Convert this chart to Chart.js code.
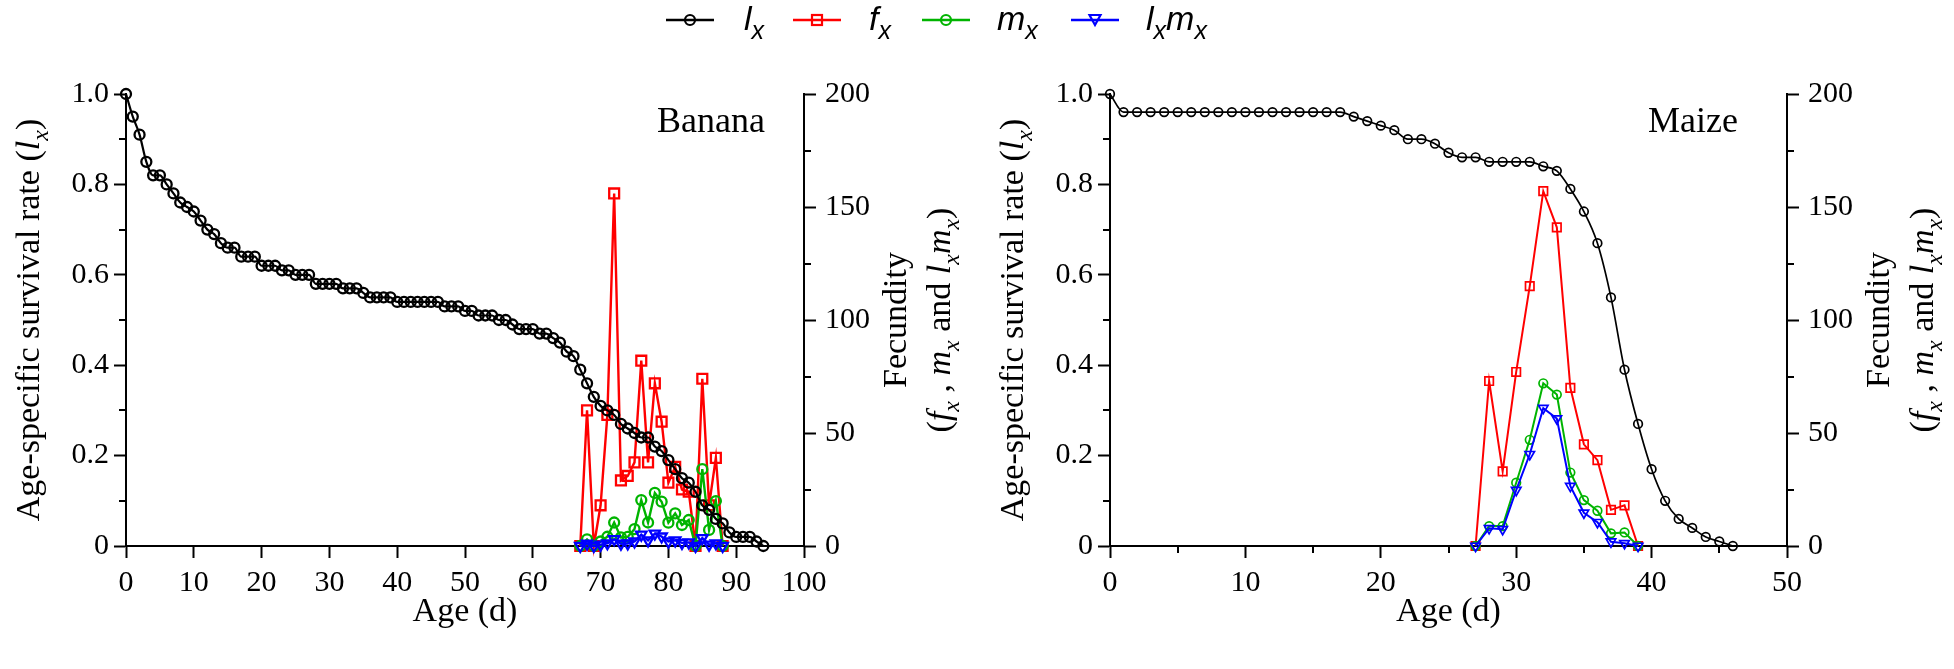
<!DOCTYPE html>
<html><head><meta charset="utf-8">
<script src="https://cdn.jsdelivr.net/npm/chart.js@4.4.1/dist/chart.umd.min.js"></script>
<style>
html,body{margin:0;padding:0;background:#fff;}
#wrap{position:relative;width:1954px;height:669px;overflow:hidden;background:#fff;}
#wrap canvas{position:absolute;top:0;}
#c1{left:0;}
#c2{left:977px;}
.lg{position:absolute;font-family:"Liberation Sans",Arial,sans-serif;font-style:italic;font-size:34px;line-height:34px;color:#000;white-space:nowrap;}
.lg sub{font-size:25px;line-height:0;vertical-align:-9px;}
.mk{position:absolute;}
</style></head>
<body>
<div id="wrap">
<canvas id="c1" width="977" height="669"></canvas>
<canvas id="c2" width="977" height="669"></canvas>
</div>
<script>
// ---------------- DATA ----------------
const bananaLxStartAge = 0;
const bananaLx = [1.00,0.95,0.91,0.85,0.82,0.82,0.80,0.78,0.76,0.75,
  0.74,0.72,0.70,0.69,0.67,0.66,0.66,0.64,0.64,0.64,
  0.62,0.62,0.62,0.61,0.61,0.60,0.60,0.60,0.58,0.58,
  0.58,0.58,0.57,0.57,0.57,0.56,0.55,0.55,0.55,0.55,
  0.54,0.54,0.54,0.54,0.54,0.54,0.54,0.53,0.53,0.53,
  0.52,0.52,0.51,0.51,0.51,0.50,0.50,0.49,0.48,0.48,
  0.48,0.47,0.47,0.46,0.45,0.43,0.42,0.39,0.36,0.33,
  0.31,0.30,0.29,0.27,0.26,0.25,0.24,0.24,0.22,0.21,
  0.19,0.17,0.15,0.14,0.12,0.09,0.08,0.06,0.05,0.03,
  0.02,0.02,0.02,0.01,0.00];
const bananaRepStartAge = 67;
const bananaFx   = [0,60,0,18,58,156,29,31,37,82,37,72,55,28,35,25,24,0,74,18,39,0];
const bananaMx   = [0,2.9,0,2,4.1,10.4,3.8,4.0,7.5,20.3,10.4,23.5,19.6,10.3,14.4,9.3,11.5,0,34,7.1,19.9,0];
const bananaLxMx = [0,1.0,0,0.6,1.2,3.0,1.0,1.1,2.0,5.0,2.5,5.5,4.2,2.0,2.5,1.4,1.6,0,3.5,0.6,1.2,0];

const maizeLxStartAge = 0;
const maizeLx = [1.00,0.96,0.96,0.96,0.96,0.96,0.96,0.96,0.96,0.96,
  0.96,0.96,0.96,0.96,0.96,0.96,0.96,0.96,0.95,0.94,
  0.93,0.92,0.90,0.90,0.89,0.87,0.86,0.86,0.85,0.85,
  0.85,0.85,0.84,0.83,0.79,0.74,0.67,0.55,0.39,0.27,
  0.17,0.10,0.06,0.04,0.02,0.01,0.00];
const maizeRepStartAge = 27;
const maizeFx   = [0,73,33,77,115,157,141,70,45,38,16,18,0];
const maizeMx   = [0,8.8,8.8,28,47,72,67,32.5,20.3,15.6,5.6,6.0,0];
const maizeLxMx = [0,7.8,7.4,24.7,40.6,61,56.4,26.5,14.7,10.5,1.9,1.2,0];

const leftMajorTicks  = [0,0.2,0.4,0.6,0.8,1.0];
const leftMinorTicks  = [0.1,0.3,0.5,0.7,0.9];
const rightMajorTicks = [0,50,100,150,200];
const rightMinorTicks = [25,75,125,175];
const bananaXTicks = [0,10,20,30,40,50,60,70,80,90,100];
const maizeXTicks  = [0,10,20,30,40,50];
const maizeXMinor  = [5,15,25,35,45];

const seriesNames = [['l','x'],['f','x'],['m','x'],['l','x','m','x']];
const seriesColors = ['#000000','#ff0000','#00b400','#0000ff'];

// ---------------- HELPERS ----------------
function pts(start, arr){ return arr.map((v,i)=>({x:start+i, y:v})); }
const SERIF = '"Liberation Serif","Times New Roman",serif';

function drawRich(ctx, segs, cx, cy, size){
  ctx.save();
  ctx.translate(cx, cy);
  ctx.rotate(-Math.PI/2);
  let total = 0;
  const fontOf = s => (s.it?'italic ':'') + (s.sub? Math.round(size*0.7): size) + 'px ' + SERIF;
  segs.forEach(s=>{ ctx.font = fontOf(s); s.w = ctx.measureText(s.t).width; total += s.w; });
  let x = -total/2;
  ctx.fillStyle = '#000'; ctx.textAlign='left'; ctx.textBaseline='alphabetic';
  segs.forEach(s=>{ ctx.font = fontOf(s); ctx.fillText(s.t, x, s.sub ? size*0.25 : 0); x += s.w; });
  ctx.restore();
}

const leftTitle = [{t:'Age-specific survival rate ('},{t:'l',it:1},{t:'x',it:1,sub:1},{t:')'}];
const rightTitle1 = [{t:'Fecundity'}];
const rightTitle2 = [{t:'('},{t:'f',it:1},{t:'x',it:1,sub:1},{t:' , '},{t:'m',it:1},{t:'x',it:1,sub:1},
  {t:' and '},{t:'l',it:1},{t:'x',it:1,sub:1},{t:'m',it:1},{t:'x',it:1,sub:1},{t:')'}];

function makeChart(id, o){
  const ctx = document.getElementById(id);
  const deco = {
    id:'deco'+id,
    afterDraw(chart){
      const c = chart.ctx, a = chart.chartArea;
      const yS = chart.scales.y, y2 = chart.scales.y2, xS = chart.scales.x;
      c.save();
      c.strokeStyle='#000'; c.lineWidth=2;
      c.beginPath();
      leftMinorTicks.forEach(v=>{ const p=Math.round(yS.getPixelForValue(v)); c.moveTo(a.left-7,p); c.lineTo(a.left,p); });
      rightMinorTicks.forEach(v=>{ const p=Math.round(y2.getPixelForValue(v)); c.moveTo(a.right,p); c.lineTo(a.right+7,p); });
      (o.xMinor||[]).forEach(v=>{ const p=Math.round(xS.getPixelForValue(v)); c.moveTo(p,a.bottom); c.lineTo(p,a.bottom+7); });
      c.stroke();
      c.restore();
      const cy = (a.top+a.bottom)/2;
      drawRich(c, leftTitle, a.left-87, cy, 34);
      drawRich(c, rightTitle1, a.right+102, cy, 34);
      drawRich(c, rightTitle2, a.right+146, cy, 34);
      c.save();
      c.fillStyle='#000'; c.font='36px '+SERIF; c.textAlign='right'; c.textBaseline='alphabetic';
      c.fillText(o.name, a.right-o.nameGap, 132);
      c.font='34px '+SERIF; c.textAlign='center';
      c.fillText('Age (d)', (a.left+a.right)/2, 621);
      c.restore();
    }
  };
  const P = o.p;
  const ds = [
    {label:'lx', data:pts(o.lxStart,o.lx), yAxisID:'y', borderColor:'#000', pointBorderColor:'#000',
     pointStyle:'circle', pointRadius:P.cr, pointBorderWidth:P.cbw, borderWidth:P.lw0, order:0,
     cubicInterpolationMode:'monotone'},
    {label:'fx', data:pts(o.repStart,o.fx), yAxisID:'y2', borderColor:'#ff0000', pointBorderColor:'#ff0000',
     pointStyle:'rect', pointRadius:P.sr, pointBorderWidth:P.sbw, borderWidth:P.lw, order:3},
    {label:'mx', data:pts(o.repStart,o.mx), yAxisID:'y2', borderColor:'#00b400', pointBorderColor:'#00b400',
     pointStyle:'circle', pointRadius:P.cr, pointBorderWidth:P.cbw, borderWidth:P.lw, order:2},
    {label:'lxmx', data:pts(o.repStart,o.lxmx), yAxisID:'y2', borderColor:'#0000ff', pointBorderColor:'#0000ff',
     pointStyle:'triangle', pointRotation:180, pointRadius:P.tr, pointBorderWidth:P.cbw, borderWidth:P.lw, order:1}
  ];
  ds.forEach(d=>{ d.pointBackgroundColor='rgba(255,255,255,0)'; d.backgroundColor='rgba(0,0,0,0)'; d.fill=false; d.clip=false; d.tension=0; });
  const tickFont = {family:SERIF, size:30};
  const grid = {display:true, drawOnChartArea:false, drawTicks:true, tickLength:12, tickColor:'#000', tickWidth:2};
  const border = {display:true, color:'#000', width:2};
  return new Chart(ctx, {
    type:'line',
    data:{datasets:ds},
    options:{
      responsive:false, animation:false, events:[],
      layout:{padding:{top:94,left:0,right:0,bottom:0}},
      plugins:{legend:{display:false}, tooltip:{enabled:false}},
      scales:{
        x:{type:'linear', min:0, max:o.xMax, grid:grid, border:border,
           afterBuildTicks:s=>{ s.ticks = o.xTicks.map(v=>({value:v})); },
           ticks:{font:tickFont, color:'#000', padding:7, maxRotation:0, autoSkip:false, callback:v=>String(v)},
           afterFit:s=>{ s.height = 123; }},
        y:{type:'linear', position:'left', min:0, max:1, grid:grid, border:border,
           afterBuildTicks:s=>{ s.ticks = leftMajorTicks.map(v=>({value:v})); },
           ticks:{font:tickFont, color:'#000', padding:5, callback:v=> v===0?'0':v.toFixed(1)},
           afterFit:s=>{ s.width = o.leftW; }},
        y2:{type:'linear', position:'right', min:0, max:200, grid:grid, border:border,
           afterBuildTicks:s=>{ s.ticks = rightMajorTicks.map(v=>({value:v})); },
           ticks:{font:tickFont, color:'#000', padding:9, callback:v=>String(v)},
           afterFit:s=>{ s.width = o.rightW; }}
      }
    },
    plugins:[deco]
  });
}

makeChart('c1', {name:'Banana', nameGap:39, xMax:100, xTicks:bananaXTicks, xMinor:[],
  leftW:126, rightW:173,
  lxStart:bananaLxStartAge, lx:bananaLx, repStart:bananaRepStartAge, fx:bananaFx, mx:bananaMx, lxmx:bananaLxMx,
  p:{cr:5, cbw:2.3, sr:7, sbw:2.3, tr:6, lw0:2.2, lw:2.4}});
makeChart('c2', {name:'Maize', nameGap:49, xMax:50, xTicks:maizeXTicks, xMinor:maizeXMinor,
  leftW:133, rightW:167,
  lxStart:maizeLxStartAge, lx:maizeLx, repStart:maizeRepStartAge, fx:maizeFx, mx:maizeMx, lxmx:maizeLxMx,
  p:{cr:4.3, cbw:1.7, sr:6, sbw:1.7, tr:5.5, lw0:1.7, lw:2}});

// ---------------- LEGEND (HTML) ----------------
(function(){
  const wrap = document.getElementById('wrap');
  const markerCenters = [690, 817, 946, 1095];
  const textLefts = [744, 869, 997, 1146];
  const shapes = ['circle','rect','circle','tri'];
  seriesNames.forEach((nm,i)=>{
    const col = seriesColors[i];
    const svgNS='http://www.w3.org/2000/svg';
    const svg = document.createElementNS(svgNS,'svg');
    svg.setAttribute('width','50'); svg.setAttribute('height','24');
    svg.setAttribute('class','mk');
    svg.style.left=(markerCenters[i]-25)+'px'; svg.style.top='8px';
    let inner = '<line x1="1" y1="12" x2="49" y2="12" stroke="'+col+'" stroke-width="2.5"/>';
    if(shapes[i]==='circle') inner += '<circle cx="25" cy="12" r="5" fill="none" stroke="'+col+'" stroke-width="2.2"/>';
    if(shapes[i]==='rect') inner += '<rect x="20" y="7" width="10" height="10" fill="#fff" fill-opacity="0" stroke="'+col+'" stroke-width="2.2"/>';
    if(shapes[i]==='tri') inner += '<polygon points="19.5,7 30.5,7 25,17" fill="none" stroke="'+col+'" stroke-width="2.2"/>';
    svg.innerHTML = inner;
    wrap.appendChild(svg);
    const sp = document.createElement('div');
    sp.className='lg';
    sp.style.left = textLefts[i]+'px'; sp.style.top='1px';
    let html='';
    for(let k=0;k<nm.length;k+=2){ html += nm[k]+'<sub>'+nm[k+1]+'</sub>'; }
    sp.innerHTML = html;
    wrap.appendChild(sp);
  });
})();
</script>
</body></html>
